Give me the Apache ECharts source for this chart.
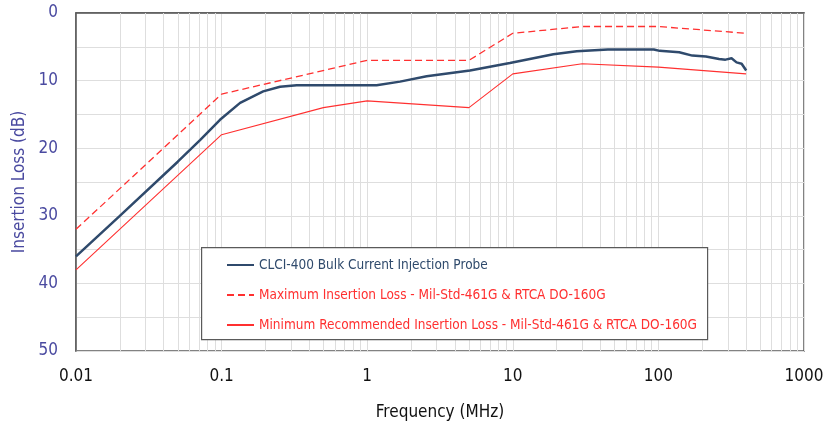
<!DOCTYPE html>
<html>
<head>
    <meta charset="utf-8">
    <title>Insertion Loss</title>
    <script src="https://cdn.jsdelivr.net/npm/echarts@6/dist/echarts.min.js"></script>
    <style>
        html, body { margin: 0; padding: 0; background: #fff; }
        #chart1 { width: 831px; height: 431px; }
    </style>
</head>
<body>
<div id="chart1"></div>
<script type="text/javascript">
    // 数据：频率 (MHz) 与插入损耗 (dB)
    var probeFreq = [0.01, 0.02, 0.05, 0.0711, 0.0975, 0.134, 0.193, 0.252, 0.328, 0.6, 1.16, 1.68, 2.56, 5.08, 9.55, 19, 27.5, 45, 75, 93, 102, 139, 171, 212, 261, 289, 318, 344, 373, 401];
    var probeLoss = [36, 30, 22, 18.8, 15.8, 13.3, 11.6, 10.9, 10.7, 10.7, 10.7, 10.15, 9.35, 8.5, 7.4, 6.1, 5.65, 5.4, 5.4, 5.4, 5.6, 5.8, 6.3, 6.45, 6.8, 6.9, 6.7, 7.3, 7.5, 8.5];

    var maxFreq = [0.01, 0.1, 1, 5, 10, 30, 100, 400];
    var maxLoss = [32, 12, 7, 7, 3, 2, 2, 3];

    var minFreq = [0.01, 0.1, 0.5, 1, 5, 10, 30, 100, 400];
    var minLoss = [38, 18, 14, 13, 14, 9, 7.5, 8, 9];

    var xTicks = [0.01, 0.1, 1, 10, 100, 1000];
    var minorX = [];
    xTicks.slice(0, 5).forEach(function (d) {
        for (var k = 2; k <= 9; k++) minorX.push(+(d * k).toPrecision(3));
    });

    var names = [
        'CLCI-400 Bulk Current Injection Probe',
        'Maximum Insertion Loss - Mil-Std-461G & RTCA DO-160G',
        'Minimum Recommended Insertion Loss - Mil-Std-461G & RTCA DO-160G'
    ];

    function pairs(xs, ys) {
        return xs.map(function (x, i) { return [x, ys[i]]; });
    }

    var font = '"Liberation Sans Narrow", "DejaVu Sans Condensed", "Noto Sans", sans-serif';
    var blue = '#4a4aa0';
    var navy = '#2f4a6c';
    var red = '#ff3030';

    var myChart1 = echarts.init(document.getElementById('chart1'));
    myChart1.setOption({
        animation: false,
        textStyle: { fontFamily: font },
        grid: {
            left: 76, right: 27, top: 13, bottom: 80,
            show: true, borderColor: '#5a5a5a', borderWidth: 1.5,
            containLabel: false
        },
        graphic: [{
            type: 'rect', left: 201, top: 247, z: 50,
            shape: { width: 506, height: 92 },
            style: { fill: '#fff', stroke: '#5a5a5a', lineWidth: 1.2 }
        }],
        legend: {
            orient: 'vertical', left: 221, top: 253, z: 60,
            itemWidth: 27, itemHeight: 14, itemGap: 16,
            itemStyle: { opacity: 0 },
            textStyle: { fontFamily: font, fontSize: 13.5 },
            data: [
                { name: names[0], textStyle: { color: navy } },
                { name: names[1], textStyle: { color: red } },
                { name: names[2], textStyle: { color: red } }
            ]
        },
        xAxis: {
            type: 'log', logBase: 10, min: 0.01, max: 1000,
            name: 'Frequency (MHz)', nameLocation: 'middle', nameGap: 53,
            nameTextStyle: { color: '#111', fontSize: 17, fontFamily: font },
            axisLine: { show: true, lineStyle: { color: '#5a5a5a', width: 1.5 } },
            axisTick: { show: false },
            axisLabel: {
                color: '#111', fontSize: 17, margin: 17, fontFamily: font,
                formatter: function (v) { return String(+v.toPrecision(3)); }
            },
            splitLine: { show: true, lineStyle: { color: '#dedede', width: 1 } }
        },
        yAxis: {
            type: 'value', inverse: true, min: 0, max: 50, interval: 10,
            name: 'Insertion Loss (dB)', nameLocation: 'middle', nameGap: 45,
            nameTextStyle: { color: blue, fontSize: 17, fontFamily: font },
            axisLine: { show: true, lineStyle: { color: '#5a5a5a', width: 1.5 } },
            axisTick: { show: false },
            axisLabel: { color: blue, fontSize: 17, margin: 18, fontFamily: font },
            minorTick: { show: false, splitNumber: 2 },
            splitLine: { show: true, lineStyle: { color: '#dedede', width: 1 } },
            minorSplitLine: { show: true, lineStyle: { color: '#dedede', width: 1 } }
        },
        series: [
            {
                name: names[0], type: 'line', symbol: 'none', z: 5,
                data: pairs(probeFreq, probeLoss),
                lineStyle: { color: navy, width: 2.5 },
                itemStyle: { color: navy },
                markLine: {
                    silent: true, symbol: 'none', z: 1,
                    label: { show: false },
                    lineStyle: { color: '#dedede', width: 1, type: 'solid' },
                    data: minorX.map(function (v) { return { xAxis: v }; })
                }
            },
            {
                name: names[1], type: 'line', symbol: 'none', z: 4,
                data: pairs(maxFreq, maxLoss),
                lineStyle: { color: red, width: 1.3, type: [7, 4] },
                itemStyle: { color: red }
            },
            {
                name: names[2], type: 'line', symbol: 'none', z: 4,
                data: pairs(minFreq, minLoss),
                lineStyle: { color: red, width: 1.1 },
                itemStyle: { color: red }
            }
        ]
    });
</script>
</body>
</html>
